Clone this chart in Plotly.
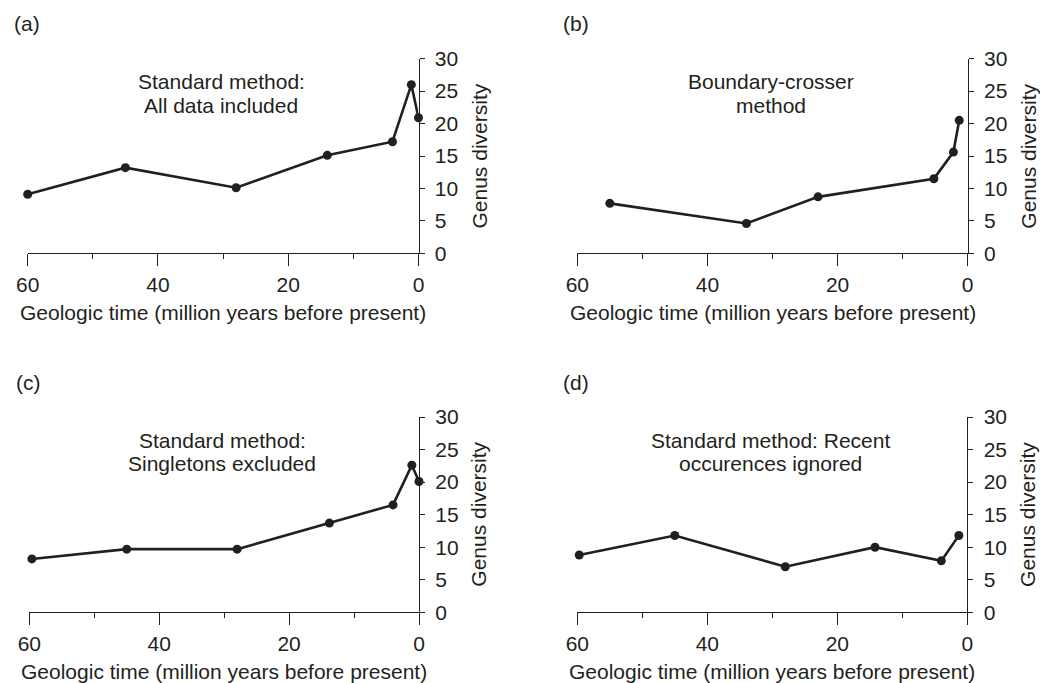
import plotly.graph_objects as go

# ---- data ----
panel_labels = ["(a)", "(b)", "(c)", "(d)"]
panel_titles = [
    ["Standard method:", "All data included"],
    ["Boundary-crosser", "method"],
    ["Standard method:", "Singletons excluded"],
    ["Standard method: Recent", "occurences ignored"],
]
a_time = [60, 45, 28, 14, 4, 1.1, 0]
a_div = [9.1, 13.2, 10.1, 15.1, 17.2, 26.0, 20.9]
b_time = [55, 34, 23, 5.2, 2.2, 1.3]
b_div = [7.7, 4.6, 8.7, 11.5, 15.6, 20.5]
c_time = [59.6, 45, 28, 13.8, 4, 1.1, 0]
c_div = [8.2, 9.7, 9.7, 13.7, 16.5, 22.6, 20.1]
d_time = [59.7, 45, 28, 14.2, 4, 1.3]
d_div = [8.8, 11.8, 7.0, 10.0, 7.9, 11.8]
x_title = "Geologic time (million years before present)"
y_title = "Genus diversity"

series = [(a_time, a_div), (b_time, b_div), (c_time, c_div), (d_time, d_div)]

# ---- layout (pixel geometry) ----
W, H = 1040, 683
INK = "#231f20"
FONT = "Liberation Sans, Arial, Helvetica, sans-serif"
FS = 21

# plot boxes: (left, right, top, bottom) in px
boxes = [
    (27.7, 418.5, 58.7, 253.3),
    (577.3, 967.7, 58.7, 253.3),
    (29.3, 419.0, 417.0, 612.3),
    (577.3, 967.3, 417.0, 612.3),
]

def px(x):
    return x / W

def py(y):
    return 1 - y / H

fig = go.Figure()
annotations = []
layout = dict(
    template="none",
    width=W, height=H, autosize=False,
    margin=dict(l=0, r=0, t=0, b=0, pad=0, autoexpand=False),
    paper_bgcolor="white", plot_bgcolor="white",
    showlegend=False,
    font=dict(family=FONT, size=FS, color=INK),
)

for i, ((xs, ys), (l, r, t, b)) in enumerate(zip(series, boxes)):
    n = "" if i == 0 else str(i + 1)
    xa, ya = "x" + n, "y" + n
    fig.add_trace(go.Scatter(
        x=xs, y=ys, xaxis=xa, yaxis=ya, mode="lines+markers",
        line=dict(color=INK, width=2.6),
        marker=dict(color=INK, size=9, line=dict(width=0)),
        cliponaxis=False, hoverinfo="skip",
    ))
    layout["xaxis" + n] = dict(
        domain=[px(l), px(r)], anchor=ya, range=[60, 0], automargin=False,
        tickmode="linear", tick0=0, dtick=20,
        ticks="outside", ticklen=12, tickwidth=1.3, tickcolor=INK,
        minor=dict(tickmode="linear", tick0=0, dtick=10, ticks="outside",
                   ticklen=5, tickwidth=1.3, tickcolor=INK, showgrid=False),
        showline=True, linecolor=INK, linewidth=1.3,
        showgrid=False, zeroline=False,
        tickfont=dict(family=FONT, size=FS, color=INK),
        ticklabelstandoff=0,
        fixedrange=True,
    )
    layout["yaxis" + n] = dict(
        domain=[py(b), py(t)], anchor=xa, side="right", range=[0, 30], automargin=False,
        tickmode="linear", tick0=0, dtick=5,
        ticks="outside", ticklen=5, tickwidth=1.3, tickcolor=INK,
        showline=True, linecolor=INK, linewidth=1.3,
        showgrid=False, zeroline=False,
        tickfont=dict(family=FONT, size=FS, color=INK),
        ticklabelstandoff=6,
        fixedrange=True,
    )
    cx = (l + r) / 2
    # panel label
    annotations.append(dict(
        text=panel_labels[i], xref="paper", yref="paper",
        x=px(l - 1), y=py(t - 35), xanchor="center", yanchor="middle",
        showarrow=False, font=dict(family=FONT, size=FS, color=INK)))
    # inner title, two lines
    tcx = l + (r - l) * 0.495
    for k, line in enumerate(panel_titles[i]):
        annotations.append(dict(
            text=line, xref="paper", yref="paper",
            x=px(tcx), y=py(t + 23 + 23.5 * k), xanchor="center", yanchor="middle",
            showarrow=False, font=dict(family=FONT, size=FS, color=INK)))
    # x axis title
    annotations.append(dict(
        text=x_title, xref="paper", yref="paper",
        x=px(cx), y=py(b + 59), xanchor="center", yanchor="middle",
        showarrow=False, font=dict(family=FONT, size=FS, color=INK)))
    # y axis title (rotated)
    annotations.append(dict(
        text=y_title, xref="paper", yref="paper", textangle=-90,
        x=px(r + 60), y=py((t + b) / 2), xanchor="center", yanchor="middle",
        showarrow=False, font=dict(family=FONT, size=FS, color=INK)))

layout["annotations"] = annotations
fig.update_layout(**layout)
fig.write_html("out.html", config={"displayModeBar": False})
